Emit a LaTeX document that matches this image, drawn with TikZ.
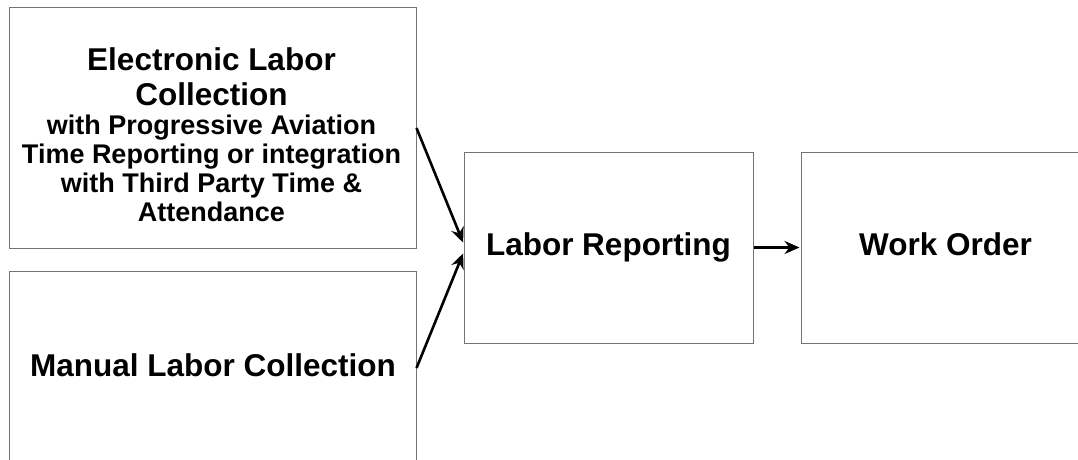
\documentclass[tikz,border=0pt]{standalone}
\usepackage{fontspec}
\setmainfont{Liberation Sans}
\usepackage{tikz}
\usetikzlibrary{arrows.meta,positioning,calc}

\definecolor{boxgray}{RGB}{115,115,115}
\newcommand{\bigline}{\fontsize{31.5}{29}\selectfont}

\begin{document}
\begin{tikzpicture}[->,>={Stealth[length=15pt,width=13pt]},x=1pt,y=-1pt,
                    box/.style={draw=boxgray,line width=1pt,rectangle,inner sep=0pt,
                      font=\bfseries\fontsize{31.5}{35}\selectfont,
                      text height=23pt,text depth=6.6pt},
                    txt/.style={inner sep=0pt,align=center,
                      font=\bfseries\fontsize{27}{29}\selectfont},
                    flow/.style={line width=2.6pt,shorten >=1pt}]
    \useasboundingbox (0,0) rectangle (1078,460);

    \node[box,minimum width=407pt,minimum height=240pt] (elecbox) at (212.5,128) {};
    \node[box,minimum width=407pt,minimum height=194pt] (manualbox) at (212.5,368) {};
    \node[box,minimum width=289pt,minimum height=191pt] (repbox) at (608.5,247.5)
    {Labor Reporting};
    \node[box,minimum width=289pt,minimum height=191pt,right=47pt of repbox] (wobox)
    {Work Order};

    \node[txt,anchor=north] (electext) at (211.5,47.5)
    {\bigline Electronic Labor\\[6pt]\bigline Collection\\
     with Progressive Aviation\\Time Reporting or integration\\
     with Third Party Time \&\\Attendance};
    \node[txt,anchor=base,font=\bfseries\fontsize{31.5}{35}\selectfont] (manualtext)
    at (213,376) {Manual Labor Collection};

    \draw[flow] (elecbox.east) -- ([yshift=4pt]repbox.west);
    \draw[flow] (manualbox.east) -- ([yshift=-5pt]repbox.west);
    \draw[flow] (repbox) -- (wobox);

\end{tikzpicture}
\end{document}
